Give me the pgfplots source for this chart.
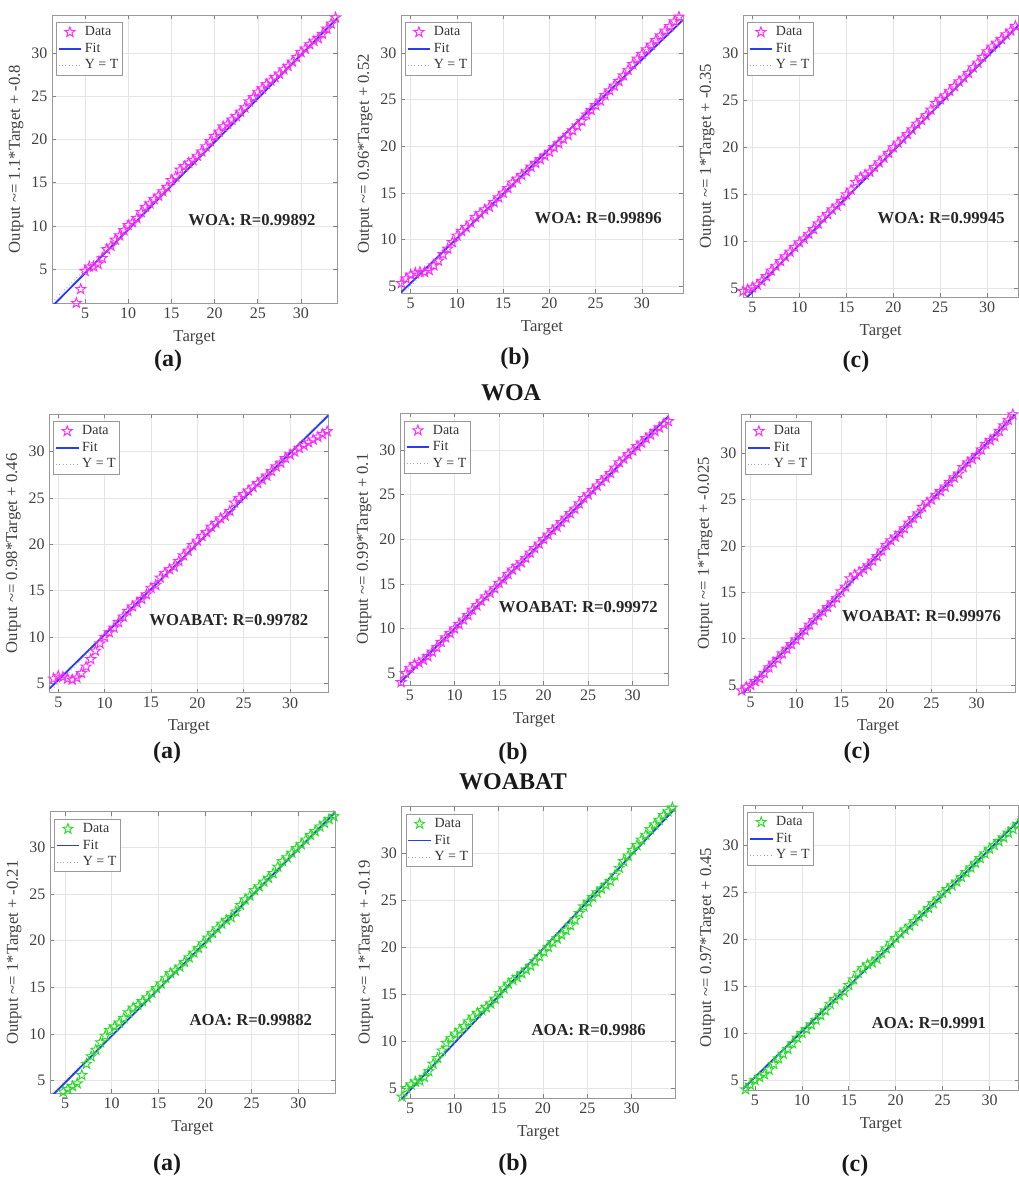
\documentclass[border=0pt]{standalone}
\usepackage{fontspec}
\setmainfont{Liberation Serif}
\usepackage{pgfplots}
\pgfplotsset{compat=1.18}
\definecolor{fitblue}{RGB}{40,60,240}
\definecolor{mgreen}{RGB}{40,220,40}
\definecolor{mmag}{RGB}{255,40,255}
\pgfdeclareplotmark{pstar}{%
  \pgfpathmoveto{\pgfpointpolar{90}{\pgfplotmarksize}}%
  \pgfpathlineto{\pgfpointpolar{126}{0.4*\pgfplotmarksize}}%
  \pgfpathlineto{\pgfpointpolar{162}{\pgfplotmarksize}}%
  \pgfpathlineto{\pgfpointpolar{198}{0.4*\pgfplotmarksize}}%
  \pgfpathlineto{\pgfpointpolar{234}{\pgfplotmarksize}}%
  \pgfpathlineto{\pgfpointpolar{270}{0.4*\pgfplotmarksize}}%
  \pgfpathlineto{\pgfpointpolar{306}{\pgfplotmarksize}}%
  \pgfpathlineto{\pgfpointpolar{342}{0.4*\pgfplotmarksize}}%
  \pgfpathlineto{\pgfpointpolar{18}{\pgfplotmarksize}}%
  \pgfpathlineto{\pgfpointpolar{54}{0.4*\pgfplotmarksize}}%
  \pgfpathclose
  \pgfusepathqstroke
}
\tikzset{rtxt/.style={font=\bfseries\fontsize{12.5}{13}\selectfont, text=black!85}}
\pgfplotsset{
 reg/.style={
  scale only axis, anchor=south west,
  grid=major, grid style={black!10, line width=0.4pt},
  axis line style={black!40, line width=0.6pt},
  tick style={black!50, line width=0.5pt},
  tick align=inside, major tick length=3pt,
  xtick={5,10,...,30}, ytick={5,10,...,30},
  tick label style={font=\fontsize{12}{12}\selectfont, text=black!75},
  /pgf/number format/assume math mode=true,
  label style={font=\fontsize{12.5}{13}\selectfont, text=black!75},
  xlabel={Target},
  xlabel style={yshift=-2pt},
  ylabel style={yshift=-1pt},
  legend style={at={(0,1)}, anchor=north west, xshift=3pt, yshift=-5.5pt,
    draw=black!40, fill=white,
    font=\fontsize{10.5}{11}\selectfont, text=black!80,
    inner sep=1pt, row sep=0pt},
  legend cell align=left,
 },
 datam/.style={only marks, mark=pstar, mark size=4pt, color=mmag, mark options={line width=0.7pt}},
 datag/.style={only marks, mark=pstar, mark size=4pt, color=mgreen, mark options={line width=0.7pt}},
 fitl/.style={color=fitblue, line width=1.4pt, no marks},
 ytl/.style={color=black!35, dotted, line width=0.6pt, no marks},
}
\begin{document}
\begin{tikzpicture}
\useasboundingbox (0,0) rectangle (764.25pt,-885pt);

% ---------------- Row 1 (WOA) ----------------
\begin{axis}[reg, at={({52*0.75pt},{-303*0.75pt})}, width=213.75pt, height=216pt,
  xmin=1.18, xmax=34.17, ymin=1.1, ymax=34.4,
  ylabel={Output \textasciitilde= 1.1*Target + -0.8}]
\addplot[datam] coordinates {(4,1.1) (4.5,2.7) (5,4.8) (5.5,5.3) (6,5.3) (6.5,5.6) (7,6.3) (7.5,7.3) (8,7.7) (8.5,8.4) (9,8.9) (9.5,9.5) (10,10.1) (10.5,10.4) (11,10.9) (11.5,11.6) (12,12.2) (12.5,12.6) (13,13.1) (13.5,13.5) (14,14.0) (14.5,14.5) (15,15.3) (15.5,15.7) (16,16.5) (16.5,16.9) (17,17.3) (17.5,17.6) (18,18.1) (18.5,18.6) (19,19.2) (19.5,19.8) (20,20.4) (20.5,20.9) (21,21.5) (21.5,21.8) (22,22.3) (22.5,22.7) (23,23.2) (23.5,23.7) (24,24.4) (24.5,24.9) (25,25.5) (25.5,25.9) (26,26.4) (26.5,26.8) (27,27.2) (27.5,27.6) (28,28.1) (28.5,28.5) (29,29.0) (29.5,29.5) (30,30.1) (30.5,30.5) (31,31.0) (31.5,31.4) (32,31.7) (32.5,32.2) (33,32.8) (33.5,33.4) (34,34.1)};
\addplot[fitl] coordinates {(1.18,0.69) (34.17,34.01)};
\addplot[ytl] coordinates {(1.18,1.18) (34.17,34.17)};
\legend{Data,Fit,Y = T}
\node[rtxt] at (axis cs:24.33,10.7) {WOA: R=0.99892};
\end{axis}

\begin{axis}[reg, at={({401*0.75pt},{-293*0.75pt})}, width=211.5pt, height=208.5pt,
  xmin=3.95, xmax=34.44, ymin=4.25, ymax=34.1,
  ylabel={Output \textasciitilde= 0.96*Target + 0.52}]
\addplot[datam] coordinates {(4,5.3) (4.5,5.8) (5,6.2) (5.5,6.4) (6,6.5) (6.5,6.5) (7,6.7) (7.5,7.2) (8,7.7) (8.5,8.4) (9,9.0) (9.5,9.7) (10,10.4) (10.5,10.9) (11,11.3) (11.5,11.8) (12,12.4) (12.5,12.8) (13,13.2) (13.5,13.5) (14,14.0) (14.5,14.5) (15,15.0) (15.5,15.5) (16,16.1) (16.5,16.5) (17,16.9) (17.5,17.3) (18,17.8) (18.5,18.2) (19,18.6) (19.5,19.0) (20,19.4) (20.5,19.9) (21,20.3) (21.5,20.8) (22,21.2) (22.5,21.7) (23,22.2) (23.5,22.7) (24,23.4) (24.5,23.9) (25,24.4) (25.5,24.9) (26,25.5) (26.5,26.0) (27,26.5) (27.5,27.0) (28,27.6) (28.5,28.2) (29,28.8) (29.5,29.4) (30,29.9) (30.5,30.4) (31,30.9) (31.5,31.4) (32,31.9) (32.5,32.4) (33,32.9) (33.5,33.4) (34,33.9)};
\addplot[fitl] coordinates {(3.95,4.31) (34.44,33.58)};
\addplot[ytl] coordinates {(3.95,3.95) (34.44,34.44)};
\legend{Data,Fit,Y = T}
\node[rtxt] at (axis cs:25.27,12.27) {WOA: R=0.99896};
\end{axis}

\begin{axis}[reg, at={({743*0.75pt},{-297*0.75pt})}, width=206.6pt, height=211.5pt,
  xmin=4.0, xmax=33.33, ymin=4.1, ymax=34.07,
  ylabel={Output \textasciitilde= 1*Target + -0.35}]
\addplot[datam] coordinates {(4,4.7) (4.5,4.9) (5,5.1) (5.5,5.4) (6,5.8) (6.5,6.3) (7,6.9) (7.5,7.4) (8,7.9) (8.5,8.4) (9,8.9) (9.5,9.4) (10,9.9) (10.5,10.3) (11,10.8) (11.5,11.3) (12,11.9) (12.5,12.5) (13,12.9) (13.5,13.4) (14,13.8) (14.5,14.3) (15,15.0) (15.5,15.5) (16,16.3) (16.5,16.8) (17,17.1) (17.5,17.4) (18,17.9) (18.5,18.4) (19,18.9) (19.5,19.4) (20,20.0) (20.5,20.5) (21,20.9) (21.5,21.4) (22,21.9) (22.5,22.5) (23,22.9) (23.5,23.4) (24,24.0) (24.5,24.7) (25,25.1) (25.5,25.5) (26,26.0) (26.5,26.5) (27,27.0) (27.5,27.4) (28,27.9) (28.5,28.5) (29,29.0) (29.5,29.6) (30,30.2) (30.5,30.7) (31,31.1) (31.5,31.5) (32,32.0) (32.5,32.4) (33,32.9)};
\addplot[fitl] coordinates {(4.0,3.65) (33.33,32.98)};
\addplot[ytl] coordinates {(4.0,4.0) (33.33,33.33)};
\legend{Data,Fit,Y = T}
\node[rtxt] at (axis cs:25.1,12.45) {WOA: R=0.99945};
\end{axis}

% ---------------- Row 2 (WOABAT) ----------------
\begin{axis}[reg, at={({49.3*0.75pt},{-692.7*0.75pt})}, width=209.25pt, height=209pt,
  xmin=4.03, xmax=34.13, ymin=3.99, ymax=34.07,
  ylabel={Output \textasciitilde= 0.98*Target + 0.46}]
\addplot[datam] coordinates {(4,5.1) (4.5,5.5) (5,5.8) (5.5,5.7) (6,5.5) (6.5,5.4) (7,5.6) (7.5,6.1) (8,6.8) (8.5,7.6) (9,8.5) (9.5,9.3) (10,10.0) (10.5,10.5) (11,11.0) (11.5,11.6) (12,12.2) (12.5,12.8) (13,13.3) (13.5,13.7) (14,14.1) (14.5,14.6) (15,15.3) (15.5,15.6) (16,16.4) (16.5,16.9) (17,17.3) (17.5,17.6) (18,18.2) (18.5,18.8) (19,19.3) (19.5,19.9) (20,20.4) (20.5,20.9) (21,21.3) (21.5,21.9) (22,22.3) (22.5,22.8) (23,23.1) (23.5,23.6) (24,24.5) (24.5,25.0) (25,25.4) (25.5,25.8) (26,26.2) (26.5,26.6) (27,27.0) (27.5,27.4) (28,27.9) (28.5,28.4) (29,28.8) (29.5,29.3) (30,29.7) (30.5,30.0) (31,30.4) (31.5,30.7) (32,31.0) (32.5,31.3) (33,31.6) (33.5,31.9) (34,32.2)};
\addplot[fitl] coordinates {(4.03,4.41) (34.13,33.91)};
\addplot[ytl] coordinates {(4.03,4.03) (34.13,34.13)};
\legend{Data,Fit,Y = T}
\node[rtxt] at (axis cs:23.4,11.83) {WOABAT: R=0.99782};
\end{axis}

\begin{axis}[reg, at={({400*0.75pt},{-685*0.75pt})}, width=201.2pt, height=203.8pt,
  xmin=3.88, xmax=34.0, ymin=3.69, ymax=34.1,
  ylabel={Output \textasciitilde= 0.99*Target + 0.1}]
\addplot[datam] coordinates {(4,4.0) (4.5,5.0) (5,5.6) (5.5,6.0) (6,6.2) (6.5,6.5) (7,6.9) (7.5,7.4) (8,7.9) (8.5,8.5) (9,9.0) (9.5,9.5) (10,10.0) (10.5,10.5) (11,11.0) (11.5,11.5) (12,12.1) (12.5,12.6) (13,13.1) (13.5,13.6) (14,14.0) (14.5,14.5) (15,15.1) (15.5,15.5) (16,16.1) (16.5,16.6) (17,17.0) (17.5,17.4) (18,17.9) (18.5,18.5) (19,19.0) (19.5,19.5) (20,20.0) (20.5,20.5) (21,21.0) (21.5,21.4) (22,21.9) (22.5,22.4) (23,22.9) (23.5,23.4) (24,24.0) (24.5,24.6) (25,25.0) (25.5,25.5) (26,26.0) (26.5,26.5) (27,26.9) (27.5,27.4) (28,28.0) (28.5,28.6) (29,29.0) (29.5,29.5) (30,29.9) (30.5,30.4) (31,30.8) (31.5,31.3) (32,31.7) (32.5,32.1) (33,32.5) (33.5,32.9) (34,33.2)};
\addplot[fitl] coordinates {(3.88,3.94) (34.0,33.76)};
\addplot[ytl] coordinates {(3.88,3.88) (34.0,34.0)};
\legend{Data,Fit,Y = T}
\node[rtxt] at (axis cs:23.9,12.46) {WOABAT: R=0.99972};
\end{axis}

\begin{axis}[reg, at={({741*0.75pt},{-692.7*0.75pt})}, width=205.5pt, height=209pt,
  xmin=3.93, xmax=34.24, ymin=4.17, ymax=34.24,
  ylabel={Output \textasciitilde= 1*Target + -0.025}]
\addplot[datam] coordinates {(4,4.4) (4.5,4.8) (5,5.0) (5.5,5.4) (6,5.7) (6.5,6.3) (7,6.9) (7.5,7.4) (8,7.8) (8.5,8.4) (9,8.9) (9.5,9.4) (10,9.9) (10.5,10.4) (11,10.9) (11.5,11.5) (12,12.0) (12.5,12.5) (13,12.9) (13.5,13.4) (14,13.9) (14.5,14.4) (15,15.1) (15.5,15.6) (16,16.5) (16.5,16.9) (17,17.2) (17.5,17.5) (18,17.9) (18.5,18.4) (19,18.9) (19.5,19.5) (20,20.1) (20.5,20.6) (21,21.0) (21.5,21.4) (22,21.9) (22.5,22.5) (23,23.0) (23.5,23.5) (24,24.2) (24.5,24.7) (25,25.0) (25.5,25.5) (26,25.9) (26.5,26.4) (27,26.9) (27.5,27.4) (28,27.8) (28.5,28.5) (29,29.0) (29.5,29.4) (30,29.8) (30.5,30.4) (31,31.0) (31.5,31.4) (32,31.8) (32.5,32.4) (33,33.0) (33.5,33.6) (34,34.2)};
\addplot[fitl] coordinates {(3.93,3.905) (34.24,34.215)};
\addplot[ytl] coordinates {(3.93,3.93) (34.24,34.24)};
\legend{Data,Fit,Y = T}
\node[rtxt] at (axis cs:23.9,12.44) {WOABAT: R=0.99976};
\end{axis}

% ---------------- Row 3 (AOA) ----------------
\begin{axis}[reg, at={({50*0.75pt},{-1093.3*0.75pt})}, width=213.75pt, height=211.2pt,
  xmin=3.39, xmax=33.93, ymin=3.65, ymax=33.8,
  ylabel={Output \textasciitilde= 1*Target + -0.21}]
\addplot[datag] coordinates {(3.8,3.6) (4.3,3.6) (4.8,3.8) (5.3,4.1) (5.8,4.4) (6.3,4.7) (6.8,5.6) (7.3,6.8) (7.8,7.6) (8.3,8.3) (8.8,9.1) (9.3,9.8) (9.8,10.4) (10.3,10.8) (10.8,11.2) (11.3,11.7) (11.8,12.3) (12.3,12.8) (12.8,13.1) (13.3,13.5) (13.8,13.9) (14.3,14.4) (14.8,14.9) (15.3,15.4) (15.8,16.0) (16.3,16.5) (16.8,16.8) (17.3,17.2) (17.8,17.7) (18.3,18.2) (18.8,18.7) (19.3,19.2) (19.8,19.7) (20.3,20.3) (20.8,20.8) (21.3,21.3) (21.8,21.8) (22.3,22.2) (22.8,22.5) (23.3,23.1) (23.8,23.8) (24.3,24.4) (24.8,24.8) (25.3,25.4) (25.8,25.8) (26.3,26.3) (26.8,26.7) (27.3,27.2) (27.8,27.9) (28.3,28.5) (28.8,28.9) (29.3,29.4) (29.8,29.9) (30.3,30.3) (30.8,30.8) (31.3,31.3) (31.8,31.7) (32.3,32.2) (32.8,32.6) (33.3,33.0) (33.8,33.3)};
\addplot[fitl] coordinates {(3.39,3.18) (33.93,33.72)};
\addplot[ytl] coordinates {(3.39,3.39) (33.93,33.93)};
\legend{Data,Fit,Y = T}
\node[rtxt] at (axis cs:24.9,11.5) {AOA: R=0.99882};
\end{axis}

\begin{axis}[reg, at={({401.7*0.75pt},{-1098.3*0.75pt})}, width=205pt, height=218.7pt,
  xmin=4.06, xmax=34.9, ymin=3.94, ymax=34.9,
  ylabel={Output \textasciitilde= 1*Target + -0.19}]
\addplot[datag] coordinates {(4.1,4.1) (4.6,5.0) (5.1,5.4) (5.6,5.7) (6.1,5.8) (6.6,6.2) (7.1,6.8) (7.6,7.6) (8.1,8.2) (8.6,9.0) (9.1,9.8) (9.6,10.3) (10.1,10.8) (10.6,11.2) (11.1,11.6) (11.6,12.1) (12.1,12.6) (12.6,13.0) (13.1,13.3) (13.6,13.6) (14.1,14.0) (14.6,14.5) (15.1,15.1) (15.6,15.6) (16.1,16.1) (16.6,16.5) (17.1,16.8) (17.6,17.2) (18.1,17.6) (18.6,18.0) (19.1,18.5) (19.6,19.0) (20.1,19.5) (20.6,20.0) (21.1,20.5) (21.6,20.9) (22.1,21.3) (22.6,21.8) (23.1,22.3) (23.6,22.9) (24.1,23.6) (24.6,24.3) (25.1,24.8) (25.6,25.3) (26.1,25.8) (26.6,26.2) (27.1,26.6) (27.6,27.0) (28.1,27.6) (28.6,28.4) (29.1,29.1) (29.6,29.7) (30.1,30.3) (30.6,30.8) (31.1,31.4) (31.6,31.9) (32.1,32.5) (32.6,33.0) (33.1,33.5) (33.6,34.0) (34.1,34.4) (34.6,34.8)};
\addplot[fitl] coordinates {(4.06,3.87) (34.9,34.71)};
\addplot[ytl] coordinates {(4.06,4.06) (34.9,34.9)};
\legend{Data,Fit,Y = T}
\node[rtxt] at (axis cs:25.16,11.2) {AOA: R=0.9986};
\end{axis}

\begin{axis}[reg, at={({743.3*0.75pt},{-1090*0.75pt})}, width=206.4pt, height=213.75pt,
  xmin=3.76, xmax=33.09, ymin=3.94, ymax=34.26,
  ylabel={Output \textasciitilde= 0.97*Target + 0.45}]
\addplot[datag] coordinates {(4,4.0) (4.5,4.5) (5,5.0) (5.5,5.3) (6,5.6) (6.5,6.1) (7,6.7) (7.5,7.3) (8,7.8) (8.5,8.3) (9,8.9) (9.5,9.5) (10,10.0) (10.5,10.4) (11,10.9) (11.5,11.4) (12,11.9) (12.5,12.4) (13,13.1) (13.5,13.6) (14,14.0) (14.5,14.4) (15,15.1) (15.5,15.7) (16,16.4) (16.5,16.9) (17,17.3) (17.5,17.5) (18,17.9) (18.5,18.5) (19,19.0) (19.5,19.6) (20,20.1) (20.5,20.6) (21,21.0) (21.5,21.4) (22,21.9) (22.5,22.4) (23,22.8) (23.5,23.3) (24,23.8) (24.5,24.3) (25,24.9) (25.5,25.3) (26,25.7) (26.5,26.1) (27,26.6) (27.5,27.1) (28,27.6) (28.5,28.1) (29,28.6) (29.5,29.1) (30,29.6) (30.5,30.0) (31,30.4) (31.5,30.8) (32,31.3) (32.5,31.7) (33,32.2)};
\addplot[fitl] coordinates {(3.76,4.10) (33.09,32.55)};
\addplot[ytl] coordinates {(3.76,3.76) (33.09,33.09)};
\legend{Data,Fit,Y = T}
\node[rtxt] at (axis cs:23.54,11.03) {AOA: R=0.9991};
\end{axis}

% ---------------- captions ----------------
\begin{scope}[every node/.style={font=\bfseries\fontsize{18}{20}\selectfont, text=black!90}]
\node at ({168*0.75pt},{-361*0.75pt}) {(a)};
\node at ({515*0.75pt},{-359*0.75pt}) {(b)};
\node at ({856*0.75pt},{-362*0.75pt}) {(c)};
\node at ({511*0.75pt},{-393*0.75pt}) {WOA};
\node at ({167*0.75pt},{-753*0.75pt}) {(a)};
\node at ({513*0.75pt},{-754*0.75pt}) {(b)};
\node at ({857*0.75pt},{-753*0.75pt}) {(c)};
\node at ({513*0.75pt},{-782*0.75pt}) {WOABAT};
\node at ({167*0.75pt},{-1165*0.75pt}) {(a)};
\node at ({513*0.75pt},{-1165*0.75pt}) {(b)};
\node at ({855*0.75pt},{-1166*0.75pt}) {(c)};
\end{scope}
\end{tikzpicture}
\end{document}
